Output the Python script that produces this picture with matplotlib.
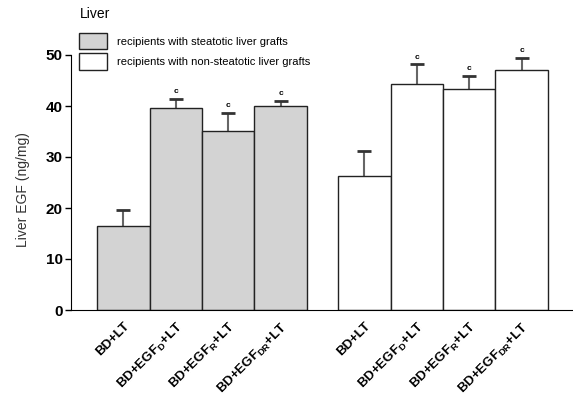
import matplotlib
matplotlib.use("Agg")
import matplotlib.pyplot as plt
import numpy as np

plt.rcParams['font.family'] = ['Liberation Sans', 'DejaVu Sans']

categories = ["BD+LT", r"BD+EGF$_{\mathregular{D}}$+LT", r"BD+EGF$_{\mathregular{R}}$+LT", r"BD+EGF$_{\mathregular{DR}}$+LT"]
steatotic = [16.5, 39.7, 35.1, 40.0]
steatotic_err = [3.2, 1.7, 3.6, 1.0]
steatotic_sig = ["", "c", "c", "c"]
nonsteatotic = [26.3, 44.4, 43.3, 47.0]
nonsteatotic_err = [4.9, 3.8, 2.6, 2.4]
nonsteatotic_sig = ["", "c", "c", "c"]
series_labels = ["recipients with steatotic liver grafts", "recipients with non-steatotic liver grafts"]

fig = plt.figure(figsize=(5.73, 4.0), dpi=100)
ax = fig.add_axes([71/573, 1-310/400, (573-71)/573, (310-55)/400])

x1 = np.arange(4)
x2 = np.arange(4) + 4.6
h1 = ax.bar(x1, steatotic, width=1.0, color='#d3d3d3', edgecolor='#222222', linewidth=1.0, zorder=2)
h2 = ax.bar(x2, nonsteatotic, width=1.0, color='white', edgecolor='#222222', linewidth=1.0, zorder=2)

for xs, vals, errs, sigs in [(x1, steatotic, steatotic_err, steatotic_sig), (x2, nonsteatotic, nonsteatotic_err, nonsteatotic_sig)]:
    tops = np.add(vals, errs)
    ax.errorbar(xs, vals, yerr=[np.zeros(len(vals)), errs], fmt='none', ecolor='#666666',
                elinewidth=1.5, capsize=0, zorder=1)
    ax.plot(xs, tops, linestyle='none', marker='_', markersize=9.5, markeredgewidth=2,
            color='#333333', zorder=3)
    for xi, t, s in zip(xs, tops, sigs):
        if s:
            ax.text(xi, t + 0.7, s, ha='center', va='bottom', fontsize=6, fontweight='bold')

ax.set_xlim(-1.0, 8.58)
ax.set_ylim(0, 50)
ax.set_yticks([0, 10, 20, 30, 40, 50])
ax.tick_params(axis='y', labelsize=11, width=1, length=4, pad=2)
for lab in ax.get_yticklabels():
    lab.set_fontweight('bold')
ax.set_xticks(list(x1) + list(x2))
ax.set_xticklabels(categories + categories, rotation=45, ha='right', va='top',
                   rotation_mode='anchor', fontsize=9.5, fontweight='bold')
ax.tick_params(axis='x', length=0, pad=7)
ax.spines['top'].set_visible(False)
ax.spines['right'].set_visible(False)
ax.set_ylabel("Liver EGF (ng/mg)", fontsize=10, va='center', color='#333333')
ax.yaxis.set_label_coords(-(71-23)/502, (310-190)/255)

fig.text(80/573, 1-14/400, "Liver", fontsize=10, ha='left', va='center')
fig.legend([h1, h2], series_labels, loc='upper left', bbox_to_anchor=(79/573, 1-33/400),
           frameon=False, fontsize=8, handlelength=2.5, handleheight=1.9, labelspacing=0.35,
           borderpad=0, borderaxespad=0, handletextpad=0.9)

fig.savefig("out.png", dpi=100)
